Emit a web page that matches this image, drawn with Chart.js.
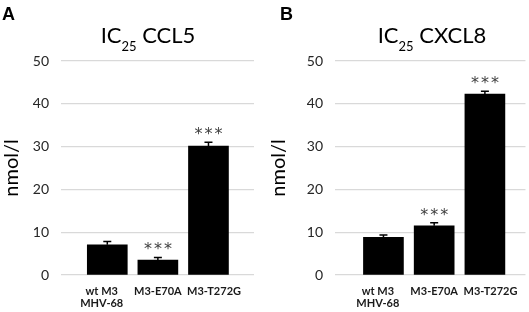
<!DOCTYPE html>
<html>
<head>
<meta charset="utf-8">
<script src="https://cdn.jsdelivr.net/npm/chart.js@4.4.1/dist/chart.umd.min.js"></script>
<style>
  html, body { margin: 0; padding: 0; background: #fff; }
  #wrap { position: relative; width: 529px; height: 312px; }
  .panel { position: absolute; top: 0; height: 312px; }
  #panelA { left: 0; width: 265px; }
  #panelB { left: 265px; width: 264px; }
</style>
</head>
<body>
<div id="wrap">
  <div class="panel" id="panelA"><canvas id="chartA"></canvas></div>
  <div class="panel" id="panelB"><canvas id="chartB"></canvas></div>
</div>
<script>
// categories shared by both panels
const categories = [["wt M3", "MHV-68"], "M3-E70A", "M3-T272G"];

// IC25 CCL5 (panel A)
const ccl5Values = [7.05, 3.5, 30.1];
const ccl5Errors = [0.75, 0.6, 0.9];
const ccl5Stars = ["", "***", "***"];

// IC25 CXCL8 (panel B)
const cxcl8Values = [8.8, 11.5, 42.3];
const cxcl8Errors = [0.55, 0.7, 0.65];
const cxcl8Stars = ["", "***", "***"];

const yTicks = [0, 10, 20, 30, 40, 50];

const FONT = "Lato, 'Open Sans', sans-serif";
// category labels sit a little wider apart than the bars in the original
const LABEL_SPREAD = 0.11;

// draws panel letter, title with subscript, error bars and significance stars
const extrasPlugin = {
  id: "extras",
  afterDatasetsDraw(chart) {
    const cfg = chart.options.plugins.extras;
    const ctx = chart.ctx;
    const xs = chart.scales.x;
    const ys = chart.scales.y;
    ctx.save();

    // panel letter
    ctx.fillStyle = "#000";
    ctx.font = "bold 18px Arial, 'Liberation Sans', sans-serif";
    ctx.textAlign = "left";
    ctx.textBaseline = "alphabetic";
    ctx.fillText(cfg.letter, cfg.letterX, 20);

    // title: IC + subscript 25 + name
    const big = "22px " + FONT;
    const small = "13px " + FONT;
    ctx.font = big;
    const w1 = ctx.measureText("IC").width;
    const w3 = ctx.measureText(" " + cfg.name).width;
    ctx.font = small;
    const w2 = ctx.measureText("25").width;
    let x = cfg.titleX - (w1 + w2 + w3) / 2;
    ctx.fillStyle = "#000";
    ctx.font = big;
    ctx.fillText("IC", x, 43);
    x += w1;
    ctx.font = small;
    ctx.fillText("25", x, 51);
    x += w2;
    ctx.font = big;
    ctx.fillText(" " + cfg.name, x, 43);

    // error bars (upper only)
    ctx.strokeStyle = "#000";
    ctx.lineWidth = 1.5;
    cfg.values.forEach((v, i) => {
      const px = xs.getPixelForValue(i);
      const y0 = ys.getPixelForValue(v);
      const y1 = ys.getPixelForValue(v + cfg.errors[i]);
      ctx.beginPath();
      ctx.moveTo(px, y0);
      ctx.lineTo(px, y1);
      ctx.moveTo(px - 4, y1);
      ctx.lineTo(px + 4, y1);
      ctx.stroke();

      if (cfg.stars[i]) {
        ctx.fillStyle = "#404040";
        ctx.font = "16px 'DejaVu Sans', sans-serif";
        ctx.textAlign = "center";
        ctx.textBaseline = "alphabetic";
        const n = cfg.stars[i].length;
        for (let k = 0; k < n; k++) {
          ctx.fillText("*", px + (k - (n - 1) / 2) * 10, y1 - 3);
        }
      }
    });
    ctx.restore();
  }
};

function makeChart(canvasId, o) {
  const ctx = document.getElementById(canvasId).getContext("2d");
  return new Chart(ctx, {
    type: "bar",
    data: {
      datasets: [{
        data: o.values.map((v, i) => ({ x: i, y: v })),
        backgroundColor: "#000",
        borderWidth: 0,
        barThickness: 40
      }]
    },
    options: {
      responsive: true,
      maintainAspectRatio: false,
      animation: false,
      layout: { padding: { top: 61, right: o.padRight, bottom: 0, left: 0 } },
      plugins: {
        legend: { display: false },
        tooltip: { enabled: false },
        extras: {
          letter: o.letter,
          letterX: o.letterX,
          name: o.name,
          titleX: o.titleX,
          values: o.values,
          errors: o.errors,
          stars: o.stars
        }
      },
      scales: {
        x: {
          type: "linear",
          offset: false,
          min: o.xMin,
          max: o.xMax,
          grid: { display: false, drawTicks: false },
          border: { display: false },
          afterBuildTicks: (scale) => {
            scale.ticks = categories.map((c, i) => ({ value: i + (i - 1) * LABEL_SPREAD }));
          },
          afterFit: (scale) => { scale.height = 37; },
          ticks: {
            autoSkip: false,
            maxRotation: 0,
            padding: 11,
            color: "#1a1a1a",
            font: { family: FONT, size: 11, weight: "bold", lineHeight: 1.05 },
            callback: (v) => categories[Math.round(v)]
          }
        },
        y: {
          min: 0,
          max: 50,
          afterBuildTicks: (scale) => {
            scale.ticks = yTicks.map((v) => ({ value: v }));
          },
          afterFit: (scale) => { scale.width = o.yWidth; },
          grid: { color: "#d9d9d9", lineWidth: 1.3, drawTicks: false },
          border: { display: false },
          ticks: {
            padding: 12,
            color: "#262626",
            font: { family: FONT, size: 14 }
          },
          title: {
            display: true,
            text: "nmol/l",
            color: "#000",
            font: { family: FONT, size: 20 },
            padding: { top: o.titlePad, bottom: 0 }
          }
        }
      }
    },
    plugins: [extrasPlugin]
  });
}

makeChart("chartA", {
  letter: "A", letterX: 2, name: "CCL5", titleX: 148,
  values: ccl5Values, errors: ccl5Errors, stars: ccl5Stars,
  xMin: -0.915, xMax: 2.9, padRight: 11, yWidth: 61, titlePad: 0
});

makeChart("chartB", {
  letter: "B", letterX: 15, name: "CXCL8", titleX: 167,
  values: cxcl8Values, errors: cxcl8Errors, stars: cxcl8Stars,
  xMin: -0.955, xMax: 2.8, padRight: 3, yWidth: 70, titlePad: 2
});
</script>
</body>
</html>
